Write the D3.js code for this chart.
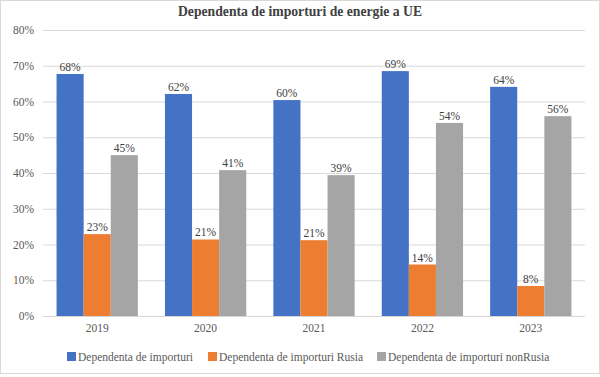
<!DOCTYPE html>
<html lang="ro">
<head>
<meta charset="utf-8">
<title>Dependenta de importuri</title>
<script src="https://cdn.jsdelivr.net/npm/d3@7"></script>
<style>
  body { margin: 0; background: #fff; }
  svg text { font-family: "Liberation Serif", "DejaVu Serif", serif; }
</style>
</head>
<body>
<div id="chart"></div>
<script>
const years = ["2019", "2020", "2021", "2022", "2023"];
const seriesNames = ["Dependenta de importuri", "Dependenta de importuri Rusia", "Dependenta de importuri nonRusia"];
const total = [67.7, 62.1, 60.4, 68.5, 64.1];
const rusia = [22.9, 21.4, 21.2, 14.4, 8.4];
const nonRusia = [45.0, 40.8, 39.4, 54.0, 55.9];
const colors = ["#4472c4", "#ed7d31", "#a5a5a5"];
const yTicks = [0, 10, 20, 30, 40, 50, 60, 70, 80];

let w = 600, h = 377;
let margin = {top: 30, right: 15, bottom: 61, left: 43};
let serif = '"Liberation Serif", "DejaVu Serif", serif';

let svg = d3.select("#chart").append("svg")
  .attr("width", w).attr("height", h);

svg.append("rect")
  .attr("x", 0.5).attr("y", 0.5)
  .attr("width", w - 1).attr("height", h - 4)
  .attr("fill", "#fff").attr("stroke", "#d9d9d9");

let x0 = d3.scaleBand().domain(years)
  .range([margin.left, w - margin.right]).paddingInner(0.25).paddingOuter(0.125);
let x1 = d3.scaleBand().domain([0, 1, 2]).range([0, x0.bandwidth()]);
let y = d3.scaleLinear().domain([0, 80]).range([h - margin.bottom, margin.top]);

// gridlines
svg.append("g").selectAll("line").data(yTicks).join("line")
  .attr("x1", margin.left).attr("x2", w - margin.right)
  .attr("y1", d => y(d) + 0.5).attr("y2", d => y(d) + 0.5)
  .attr("stroke", "#d9d9d9").attr("stroke-width", 1);

// y axis labels
let yAxis = d3.axisLeft(y).tickValues(yTicks).tickFormat(d => d + "%").tickSize(0).tickPadding(9);
let gy = svg.append("g").attr("transform", "translate(" + margin.left + ",0)").call(yAxis)
  .attr("font-family", serif);
gy.select(".domain").remove();
gy.selectAll("text").attr("fill", "#595959").style("font-size", "11.5px");

// x axis
let xAxis = d3.axisBottom(x0).tickSize(0).tickPadding(8);
let gx = svg.append("g").attr("transform", "translate(0," + (h - margin.bottom) + ")").call(xAxis)
  .attr("font-family", serif);
gx.select(".domain").remove();
gx.selectAll("text").attr("fill", "#595959").style("font-size", "11.5px");

let rows = years.map((yr, i) => ({year: yr, vals: [total[i], rusia[i], nonRusia[i]]}));

let groups = svg.append("g").selectAll("g").data(rows).join("g")
  .attr("transform", d => "translate(" + x0(d.year) + ",0)");

groups.selectAll("rect").data(d => d.vals.map((v, k) => ({k, v}))).join("rect")
  .attr("x", d => x1(d.k)).attr("width", x1.bandwidth())
  .attr("y", d => y(d.v)).attr("height", d => y(0) - y(d.v))
  .attr("fill", d => colors[d.k]);

groups.selectAll("text").data(d => d.vals.map((v, k) => ({k, v}))).join("text")
  .attr("x", d => x1(d.k) + x1.bandwidth() / 2)
  .attr("y", d => y(d.v) - 3)
  .attr("text-anchor", "middle")
  .attr("fill", "#404040").style("font-size", "11.5px")
  .text(d => Math.round(d.v) + "%");

// baseline
svg.append("line")
  .attr("x1", margin.left).attr("x2", w - margin.right)
  .attr("y1", y(0) + 0.5).attr("y2", y(0) + 0.5)
  .attr("stroke", "#d9d9d9");

// title
svg.append("text")
  .attr("x", w / 2).attr("y", 16)
  .attr("text-anchor", "middle")
  .attr("fill", "#404040")
  .style("font-size", "13.7px").style("font-weight", "bold")
  .text("Dependenta de importuri de energie a UE");

// legend
let legX = [67, 208, 377];
let leg = svg.append("g").selectAll("g").data(seriesNames).join("g")
  .attr("transform", (d, i) => "translate(" + legX[i] + ",352)");
leg.append("rect").attr("width", 9).attr("height", 9).attr("fill", (d, i) => colors[i]);
leg.append("text").attr("x", 11).attr("y", 8.5)
  .attr("fill", "#595959").style("font-size", "11.5px")
  .text(d => d);
</script>
</body>
</html>
